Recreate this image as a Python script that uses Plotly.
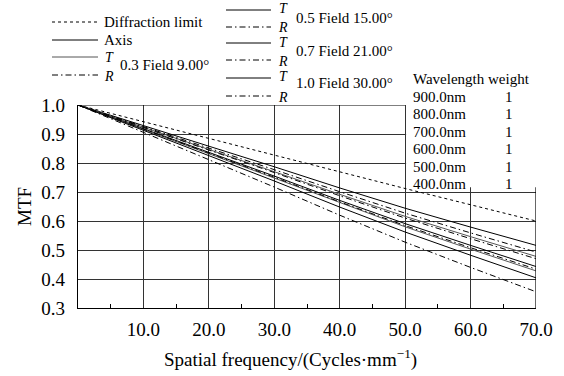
import plotly.graph_objects as go

freq = [0, 10, 20, 30, 40, 50, 60, 70]
diffraction = [1.0, 0.942, 0.884, 0.826, 0.769, 0.712, 0.656, 0.600]
axis_mtf = [1.0, 0.929, 0.859, 0.787, 0.714, 0.644, 0.579, 0.516]
f03_T = [1.0, 0.924, 0.848, 0.770, 0.692, 0.616, 0.546, 0.478]
f03_R = [1.0, 0.926, 0.852, 0.777, 0.701, 0.627, 0.559, 0.493]
f05_T = [1.0, 0.919, 0.837, 0.755, 0.671, 0.591, 0.516, 0.443]
f05_R = [1.0, 0.923, 0.845, 0.767, 0.687, 0.610, 0.539, 0.470]
f07_T = [1.0, 0.916, 0.833, 0.748, 0.663, 0.580, 0.503, 0.428]
f07_R = [1.0, 0.917, 0.835, 0.751, 0.666, 0.584, 0.508, 0.434]
f10_T = [1.0, 0.913, 0.826, 0.738, 0.648, 0.562, 0.482, 0.404]
f10_R = [1.0, 0.906, 0.812, 0.717, 0.620, 0.527, 0.440, 0.356]

x_ticks = [10, 20, 30, 40, 50, 60, 70]
x_ticklabels = ["10.0", "20.0", "30.0", "40.0", "50.0", "60.0", "70.0"]
y_ticks = [0.3, 0.4, 0.5, 0.6, 0.7, 0.8, 0.9, 1.0]
y_ticklabels = ["0.3", "0.4", "0.5", "0.6", "0.7", "0.8", "0.9", "1.0"]

wavelengths = ["900.0nm", "800.0nm", "700.0nm", "600.0nm", "500.0nm", "400.0nm"]
weights = ["1", "1", "1", "1", "1", "1"]

FONT = "Liberation Serif"
W, H = 564, 376
L, R, T, B = 78, 28, 105, 68
PW, PH = W - L - R, H - T - B

def px(x):
    return (x - L) / PW

def py(y):
    return (H - B - y) / PH

DD = "6px,3px,1.5px,3px"
GRAY = "#555555"

series = [
    (diffraction, "Diffraction limit", "black", "dot"),
    (axis_mtf, "Axis", "black", "solid"),
    (f03_T, "0.3 T", GRAY, "solid"),
    (f03_R, "0.3 R", "black", DD),
    (f05_T, "0.5 T", "black", "solid"),
    (f05_R, "0.5 R", "black", DD),
    (f07_T, "0.7 T", GRAY, "solid"),
    (f07_R, "0.7 R", "black", DD),
    (f10_T, "1.0 T", "black", "solid"),
    (f10_R, "1.0 R", "black", DD),
]

fig = go.Figure()
for ys, name, col, dash in series:
    fig.add_trace(go.Scatter(x=freq, y=ys, mode="lines", name=name,
                             line=dict(color=col, width=1, dash=dash),
                             showlegend=False, hoverinfo="skip"))

shapes = []
annotations = []

# white box behind wavelength table (covers grid)
shapes.append(dict(type="rect", xref="x", yref="y", x0=50.15, x1=71, y0=0.716, y1=1.05,
                   fillcolor="white", line=dict(width=0), layer="between"))
# frame: top and right parts
shapes.append(dict(type="line", xref="x", yref="y", x0=0, x1=50, y0=1.0, y1=1.0,
                   line=dict(color="black", width=1.2), layer="above"))
shapes.append(dict(type="line", xref="x", yref="y", x0=70, x1=70, y0=0.3, y1=0.716,
                   line=dict(color="black", width=1.2), layer="above"))

def leg_line(x0, x1, y, col, dash):
    shapes.append(dict(type="line", xref="paper", yref="paper",
                       x0=px(x0), x1=px(x1), y0=py(y), y1=py(y),
                       line=dict(color=col, width=1, dash=dash)))

def text(x, y, s, size=15, anchor="left", italic=False):
    if italic:
        s = "<i>" + s + "</i>"
    annotations.append(dict(xref="paper", yref="paper", x=px(x), y=py(y), text=s,
                            showarrow=False, xanchor=anchor, yanchor="middle",
                            borderpad=0,
                            font=dict(family=FONT, size=size, color="black")))

# legend column 1
leg_line(52, 98, 22, "black", "dot")
text(103, 22, "Diffraction limit")
leg_line(52, 98, 40, "black", "solid")
text(103, 40, "Axis")
leg_line(52, 98, 57, GRAY, "solid")
text(104, 57, "T", size=14, italic=True)
leg_line(52, 98, 75, "black", DD)
text(103, 76, "R", size=14, italic=True)
text(119, 65, "0.3 Field 9.00°")

# legend column 2
groups = [("0.5 Field 15.00°", 10, 27, 18), ("0.7 Field 21.00°", 43, 60, 51),
          ("1.0 Field 30.00°", 78, 96, 83)]
for label, yt, yr, ytxt in groups:
    leg_line(226, 271, yt, "black", "solid")
    text(278, yt - 1, "T", size=14, italic=True)
    leg_line(226, 271, yr, "black", DD)
    text(277, yr + 1, "R", size=14, italic=True)
    text(295, ytxt, label)

# wavelength table
text(412, 79, "Wavelength weight")
for i, (wl, wt) in enumerate(zip(wavelengths, weights)):
    yy = 97 + i * 17.4
    text(412, yy, wl)
    text(509, yy, wt, anchor="center")

# axis titles
annotations.append(dict(xref="paper", yref="paper", x=px(290), y=py(358),
                        text="Spatial frequency/(Cycles·mm<sup>−1</sup>)", showarrow=False,
                        xanchor="center", yanchor="middle",
                        font=dict(family=FONT, size=19, color="black")))
annotations.append(dict(xref="paper", yref="paper", x=px(24), y=py(207),
                        text="MTF", showarrow=False, textangle=-90,
                        xanchor="center", yanchor="middle",
                        font=dict(family=FONT, size=19, color="black")))

fig.update_layout(
    width=W, height=H,
    margin=dict(l=L, r=R, t=T, b=B, pad=0),
    paper_bgcolor="white", plot_bgcolor="white",
    shapes=shapes, annotations=annotations,
    font=dict(family=FONT, color="black"),
    xaxis=dict(range=[0, 70], tickmode="array", tickvals=x_ticks, ticktext=x_ticklabels,
               showgrid=True, gridcolor="#333333", gridwidth=1,
               showline=True, linecolor="black", linewidth=1.2,
               ticks="", tickfont=dict(family=FONT, size=19, color="black"),
               ticklabelstandoff=4,
               minor=dict(tickvals=[5, 15, 25, 35, 45, 55, 65], ticks="inside", ticklen=4,
                          tickcolor="black", showgrid=False),
               zeroline=False, fixedrange=True),
    yaxis=dict(range=[0.3, 1.0], tickmode="array", tickvals=y_ticks, ticktext=y_ticklabels,
               showgrid=True, gridcolor="#333333", gridwidth=1,
               showline=True, linecolor="black", linewidth=1.2,
               ticks="", tickfont=dict(family=FONT, size=19, color="black"),
               ticklabelstandoff=8,
               zeroline=False, fixedrange=True),
)

fig.write_html("out.html")
